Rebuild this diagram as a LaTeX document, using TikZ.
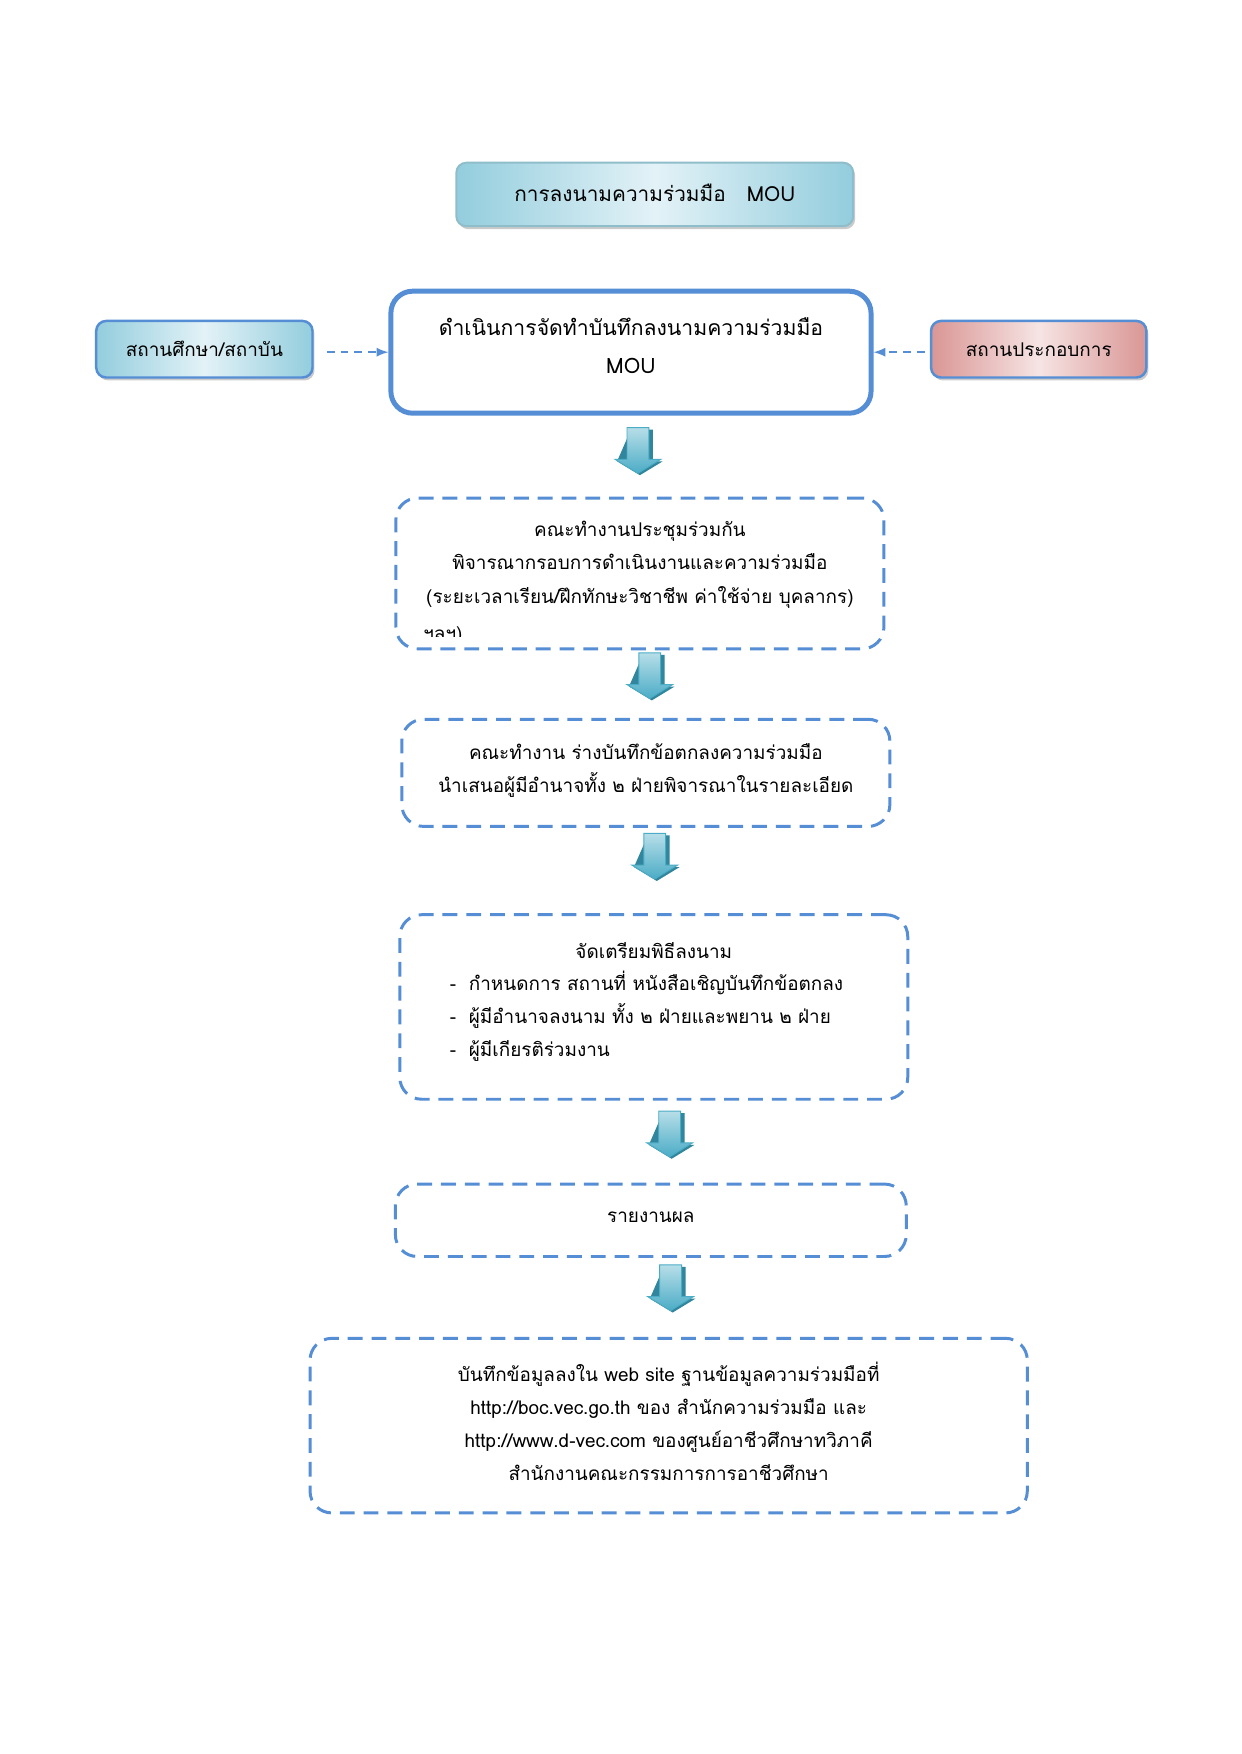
\documentclass[tikz,border=0pt]{standalone}
\usepackage{fontspec}
\setmainfont{Loma}[Script=Thai]
\usepackage{xcolor}
\usetikzlibrary{shadows, calc, positioning}

\definecolor{lineblue}{HTML}{558ED5}
\definecolor{tealdark}{HTML}{93CDDD}
\definecolor{teallight}{HTML}{E3F2F7}
\definecolor{pinkdark}{HTML}{D99694}
\definecolor{pinklight}{HTML}{F6E4E4}
\definecolor{arrowlight}{HTML}{B7DEE8}
\definecolor{arrowdark}{HTML}{4BACC6}
\definecolor{arrowside}{HTML}{31859C}

\newdimen\px \px=0.1678mm
\newcommand\boxfont{\fontsize{9.1}{16}\selectfont}
\newcommand\titlefont{\fontsize{10}{16}\selectfont}
\newcommand\mainfont{\fontsize{10.2}{18.3}\selectfont}
% extra depth on the last line, so the text sits a bit higher in its box
\newcommand\textlift[1]{\rule[-#1]{0pt}{0pt}}

\begin{document}
\begin{tikzpicture}[x=0.1678mm, y=-0.1678mm,
    shadowed/.style={drop shadow={shadow xshift=2\px, shadow yshift=-3\px, fill=black!40, opacity=0.5}},
    titlebox/.style={shadowed, draw=tealdark!80!gray, line width=2\px, rounded corners=10\px,
        left color=tealdark, right color=tealdark, middle color=teallight, font=\titlefont},
    sidebox/.style={shadowed, draw=lineblue, line width=2.5\px, rounded corners=10\px, font=\boxfont},
    mainbox/.style={draw=lineblue, line width=5\px, rounded corners=22\px, align=center, font=\mainfont},
    dbox/.style={draw=lineblue, line width=3\px, dash pattern=on 15\px off 9\px,
        rounded corners=22\px, align=center, font=\boxfont},
    dasharrow/.style={draw=lineblue, line width=2\px, dash pattern=on 8\px off 6\px, -latex}]

    \path[use as bounding box, fill=white] (0, 0) rectangle (1251, 1768);

    % header and the two partners
    \node[titlebox, minimum width=400\px, minimum height=64\px] (title) at (660, 196)
        {การลงนามความร่วมมือ\ \ \ MOU\textlift{2pt}};
    \node[sidebox, left color=tealdark, right color=tealdark, middle color=teallight,
        minimum width=218\px, minimum height=57\px] (school) at (206, 352) {สถานศึกษา/สถาบัน};
    \node[sidebox, left color=pinkdark, right color=pinkdark, middle color=pinklight,
        minimum width=217\px, minimum height=57\px] (company) at (1047, 352) {สถานประกอบการ};
    \node[mainbox, minimum width=484\px, minimum height=123\px] (mou) at (636, 355)
        {ดำเนินการจัดทำบันทึกลงนามความร่วมมือ\\MOU\textlift{6.5pt}};

    \draw[dasharrow] ([xshift=13\px]mou.west -| school.east) -- (mou.west);
    \draw[dasharrow] ([xshift=-5\px]mou.east -| company.west) -- (mou.east);

    % steps
    \node[dbox, minimum width=492\px, minimum height=152\px] (meet) at (645, 578) {};
    \begin{scope}
        \clip (400, 505) rectangle (890, 642);
        \node[font=\boxfont, align=center, anchor=north] (meettext) at (645, 518)
            {คณะทำงานประชุมร่วมกัน\\พิจารณากรอบการดำเนินงานและความร่วมมือ\\(ระยะเวลาเรียน/ฝึกทักษะวิชาชีพ ค่าใช้จ่าย บุคลากร)};
        \node[font=\boxfont, anchor=west, inner sep=0pt] (meetetc)
            at ([xshift=4\px]meettext.west |- 0, 641) {ฯลฯ)};
    \end{scope}

    \node[dbox, minimum width=492\px, minimum height=108\px] (draft) at (651, 779)
        {คณะทำงาน ร่างบันทึกข้อตกลงความร่วมมือ\\นำเสนอผู้มีอำนาจทั้ง ๒ ฝ่ายพิจารณาในรายละเอียด\textlift{4.3pt}};

    \node[dbox, minimum width=512\px, minimum height=186\px] (prep) at (659, 1015) {};
    \node[font=\boxfont] (preptitle) at (659, 958) {จัดเตรียมพิธีลงนาม};
    \node[font=\boxfont, align=left, anchor=north west] (preplist) at (446, 971)
        {-\ \ กำหนดการ สถานที่ หนังสือเชิญบันทึกข้อตกลง\\-\ \ ผู้มีอำนาจลงนาม ทั้ง ๒ ฝ่ายและพยาน ๒ ฝ่าย\\-\ \ ผู้มีเกียรติร่วมงาน};

    \node[dbox, minimum width=515\px, minimum height=73\px] (report) at (656, 1230) {รายงานผล\textlift{3.2pt}};

    \node[dbox, minimum width=723\px, minimum height=176\px] (record) at (674, 1437)
        {บันทึกข้อมูลลงใน web site ฐานข้อมูลความร่วมมือที่\\http://boc.vec.go.th ของ สำนักความร่วมมือ และ\\http://www.d-vec.com ของศูนย์อาชีวศึกษาทวิภาคี\\สำนักงานคณะกรรมการการอาชีวศึกษา\textlift{4.3pt}};

    % block arrows between the steps
    \foreach \cx/\ty in {643/431, 655/658, 660/840, 675/1120, 676/1275} {
        \fill[arrowside]
        (\cx-7, \ty+2) -- (\cx+15, \ty+2) -- (\cx+15, \ty+34) -- (\cx+25, \ty+34) -- (\cx+2, \ty+48) -- (\cx-21, \ty+34) -- cycle;
        \shade[top color=arrowlight, bottom color=arrowdark, draw=arrowdark, line width=1\px]
        (\cx-11, \ty) -- (\cx+11, \ty) -- (\cx+11, \ty+32) -- (\cx+23, \ty+32) -- (\cx, \ty+46)
        -- (\cx-23, \ty+32) -- (\cx-11, \ty+32) -- cycle;
    }
\end{tikzpicture}
\end{document}
